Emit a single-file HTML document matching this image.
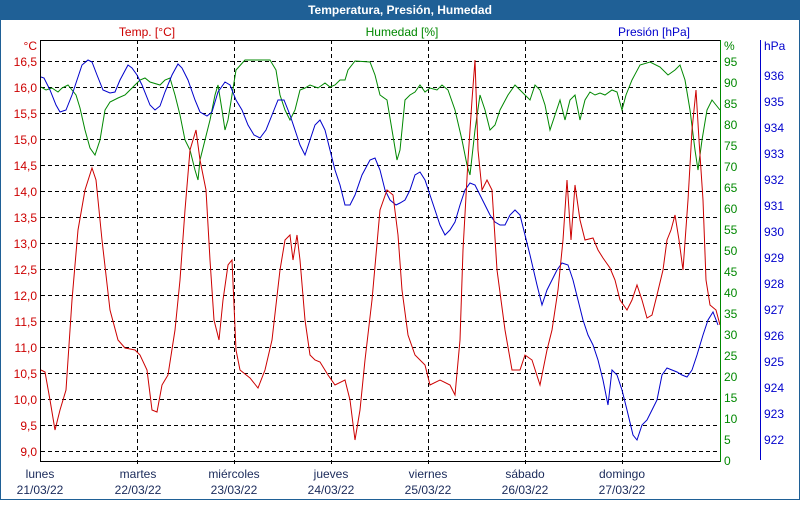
<!DOCTYPE html>
<html><head><meta charset="utf-8"><style>
body{margin:0;width:800px;height:500px;overflow:hidden;background:#fff;font-family:"Liberation Sans",sans-serif}
</style></head><body>
<svg width="800" height="500" xmlns="http://www.w3.org/2000/svg" font-family="Liberation Sans, sans-serif" font-size="12">
<rect x="0.5" y="0.5" width="799" height="499" fill="#fff" stroke="#1f6096"/>
<rect x="0" y="0" width="800" height="20" fill="#1f6096"/>
<text x="400" y="14" fill="#fff" font-weight="bold" text-anchor="middle">Temperatura, Presión, Humedad</text>
<text x="147" y="36" fill="#c00" text-anchor="middle">Temp. [°C]</text>
<text x="402" y="36" fill="#080" text-anchor="middle">Humedad [%]</text>
<text x="654" y="36" fill="#00c" text-anchor="middle">Presión [hPa]</text>
<g stroke="#000" stroke-dasharray="4,3" stroke-width="1">
<line x1="41" y1="61.5" x2="720" y2="61.5"/><line x1="41" y1="87.5" x2="720" y2="87.5"/><line x1="41" y1="113.5" x2="720" y2="113.5"/><line x1="41" y1="139.5" x2="720" y2="139.5"/><line x1="41" y1="165.5" x2="720" y2="165.5"/><line x1="41" y1="191.5" x2="720" y2="191.5"/><line x1="41" y1="217.5" x2="720" y2="217.5"/><line x1="41" y1="243.5" x2="720" y2="243.5"/><line x1="41" y1="269.5" x2="720" y2="269.5"/><line x1="41" y1="295.5" x2="720" y2="295.5"/><line x1="41" y1="321.5" x2="720" y2="321.5"/><line x1="41" y1="347.5" x2="720" y2="347.5"/><line x1="41" y1="373.5" x2="720" y2="373.5"/><line x1="41" y1="399.5" x2="720" y2="399.5"/><line x1="41" y1="425.5" x2="720" y2="425.5"/><line x1="41" y1="451.5" x2="720" y2="451.5"/>
<line x1="137.5" y1="40" x2="137.5" y2="466"/><line x1="234.5" y1="40" x2="234.5" y2="466"/><line x1="331.5" y1="40" x2="331.5" y2="466"/><line x1="428.5" y1="40" x2="428.5" y2="466"/><line x1="525.5" y1="40" x2="525.5" y2="466"/><line x1="622.5" y1="40" x2="622.5" y2="466"/>
</g>
<g fill="none" stroke-width="1">
<polyline stroke="#080" points="41,87 46,90 52,88 58,92 62,88 68,85 72,90 76,95 80,108 85,130 90,148 95,155 100,140 105,110 110,102 118,98 125,95 130,90 135,85 140,80 145,78 150,82 160,85 165,80 170,78 175,95 180,115 185,140 190,150 195,170 198,180 200,160 205,140 210,120 215,95 218,85 222,110 225,130 228,120 232,95 236,70 245,60 270,60 276,70 280,95 285,110 290,120 295,110 300,90 305,88 310,85 318,88 325,83 330,87 335,85 340,80 345,80 348,70 355,61 370,62 375,75 380,95 387,100 392,130 397,160 400,150 405,100 410,95 415,92 420,85 425,92 430,88 437,90 442,85 448,90 455,110 462,140 467,165 470,175 475,130 480,95 485,110 490,130 495,125 500,110 508,95 515,85 520,90 525,95 530,100 535,85 540,90 545,105 550,130 555,115 560,100 565,120 570,100 575,95 580,120 585,100 590,92 595,95 600,93 605,95 612,90 617,92 622,110 626,95 632,80 640,65 650,62 660,67 668,75 675,70 680,65 685,80 690,110 695,150 698,170 702,140 707,110 712,100 716,105 720,110"/>
<polyline stroke="#00c" points="41,77 44,78 50,90 56,105 60,112 66,110 72,95 77,80 82,65 88,60 92,62 97,75 103,90 110,93 115,92 120,80 128,65 132,68 137,75 142,85 150,105 155,110 160,106 165,92 172,75 178,64 182,68 188,80 195,100 200,112 207,116 212,112 218,92 225,82 230,85 236,100 242,110 248,125 254,135 260,138 266,130 272,115 278,100 284,100 290,115 295,130 300,145 305,155 310,140 315,125 320,120 325,130 330,150 335,170 340,185 345,205 350,205 355,195 362,175 370,160 375,158 380,170 385,190 390,200 396,205 400,203 405,200 410,190 415,175 420,172 425,180 430,195 435,210 440,225 445,235 450,230 455,222 460,205 465,190 470,183 475,185 480,195 485,205 490,215 495,222 500,225 505,225 510,215 515,210 520,215 525,235 530,255 537,285 542,305 547,290 552,280 557,270 562,263 568,265 573,280 578,300 583,320 588,335 593,345 598,360 603,380 608,405 612,370 617,375 622,390 627,410 633,435 637,440 642,425 647,420 652,410 657,400 662,375 667,368 672,370 677,372 682,375 687,377 692,370 697,355 703,335 708,320 713,312 718,325"/>
<polyline stroke="#c00" points="41,370 45,372 50,400 55,430 60,410 66,390 72,300 78,230 85,190 92,168 96,180 102,240 110,310 118,340 125,348 135,350 140,355 147,370 152,410 157,412 162,385 168,375 175,330 180,280 185,210 190,150 196,130 200,160 206,190 210,260 214,320 219,340 223,300 228,265 232,260 236,350 240,370 250,378 258,388 265,370 272,340 280,270 285,240 290,235 293,260 297,235 300,260 305,320 310,355 315,360 320,362 328,375 335,385 345,380 350,400 355,440 360,410 365,360 372,300 380,210 387,190 393,195 398,235 402,290 408,335 415,355 425,365 430,385 440,380 450,385 455,395 460,340 463,250 468,160 472,100 475,60 478,150 482,190 487,180 492,190 497,270 505,330 512,370 520,370 525,355 532,360 540,385 547,350 552,330 558,290 563,240 567,180 571,240 575,185 580,220 585,240 593,238 598,250 603,258 610,268 615,280 620,300 627,310 632,300 637,285 642,300 647,318 652,315 657,295 663,270 667,240 671,230 675,215 679,240 683,270 688,200 692,130 696,90 699,140 703,200 706,280 710,305 716,310 720,325"/>
</g>
<line x1="40.5" y1="40" x2="40.5" y2="462" stroke="#000"/>
<line x1="40" y1="461.5" x2="721" y2="461.5" stroke="#000"/>
<line x1="40" y1="40.5" x2="721" y2="40.5" stroke="#000"/>
<line x1="720.5" y1="40" x2="720.5" y2="462" stroke="#080"/>
<line x1="760.5" y1="40" x2="760.5" y2="460" stroke="#00c"/>
<g fill="#c00" text-anchor="end">
<text x="37" y="50">°C</text>
<text x="37" y="66">16,5</text><text x="37" y="92">16,0</text><text x="37" y="118">15,5</text><text x="37" y="144">15,0</text><text x="37" y="170">14,5</text><text x="37" y="196">14,0</text><text x="37" y="222">13,5</text><text x="37" y="248">13,0</text><text x="37" y="274">12,5</text><text x="37" y="300">12,0</text><text x="37" y="326">11,5</text><text x="37" y="352">11,0</text><text x="37" y="378">10,5</text><text x="37" y="404">10,0</text><text x="37" y="430">9,5</text><text x="37" y="456">9,0</text>
</g>
<g fill="#080">
<text x="724" y="50">%</text>
<text x="724" y="66">95</text><text x="724" y="87">90</text><text x="724" y="108">85</text><text x="724" y="129">80</text><text x="724" y="150">75</text><text x="724" y="171">70</text><text x="724" y="192">65</text><text x="724" y="213">60</text><text x="724" y="234">55</text><text x="724" y="255">50</text><text x="724" y="276">45</text><text x="724" y="297">40</text><text x="724" y="318">35</text><text x="724" y="339">30</text><text x="724" y="360">25</text><text x="724" y="381">20</text><text x="724" y="402">15</text><text x="724" y="423">10</text><text x="724" y="444">5</text><text x="724" y="465">0</text>
</g>
<g fill="#00c">
<text x="764" y="50">hPa</text>
<text x="764" y="80">936</text><text x="764" y="106">935</text><text x="764" y="132">934</text><text x="764" y="158">933</text><text x="764" y="184">932</text><text x="764" y="210">931</text><text x="764" y="236">930</text><text x="764" y="262">929</text><text x="764" y="288">928</text><text x="764" y="314">927</text><text x="764" y="340">926</text><text x="764" y="366">925</text><text x="764" y="392">924</text><text x="764" y="418">923</text><text x="764" y="444">922</text>
</g>
<g fill="#1a2a5a" text-anchor="middle">
<text x="40" y="478">lunes</text><text x="40" y="494">21/03/22</text>
<text x="138" y="478">martes</text><text x="138" y="494">22/03/22</text>
<text x="234" y="478">miércoles</text><text x="234" y="494">23/03/22</text>
<text x="331" y="478">jueves</text><text x="331" y="494">24/03/22</text>
<text x="428" y="478">viernes</text><text x="428" y="494">25/03/22</text>
<text x="525" y="478">sábado</text><text x="525" y="494">26/03/22</text>
<text x="622" y="478">domingo</text><text x="622" y="494">27/03/22</text>
</g>
</svg>
</body></html>
